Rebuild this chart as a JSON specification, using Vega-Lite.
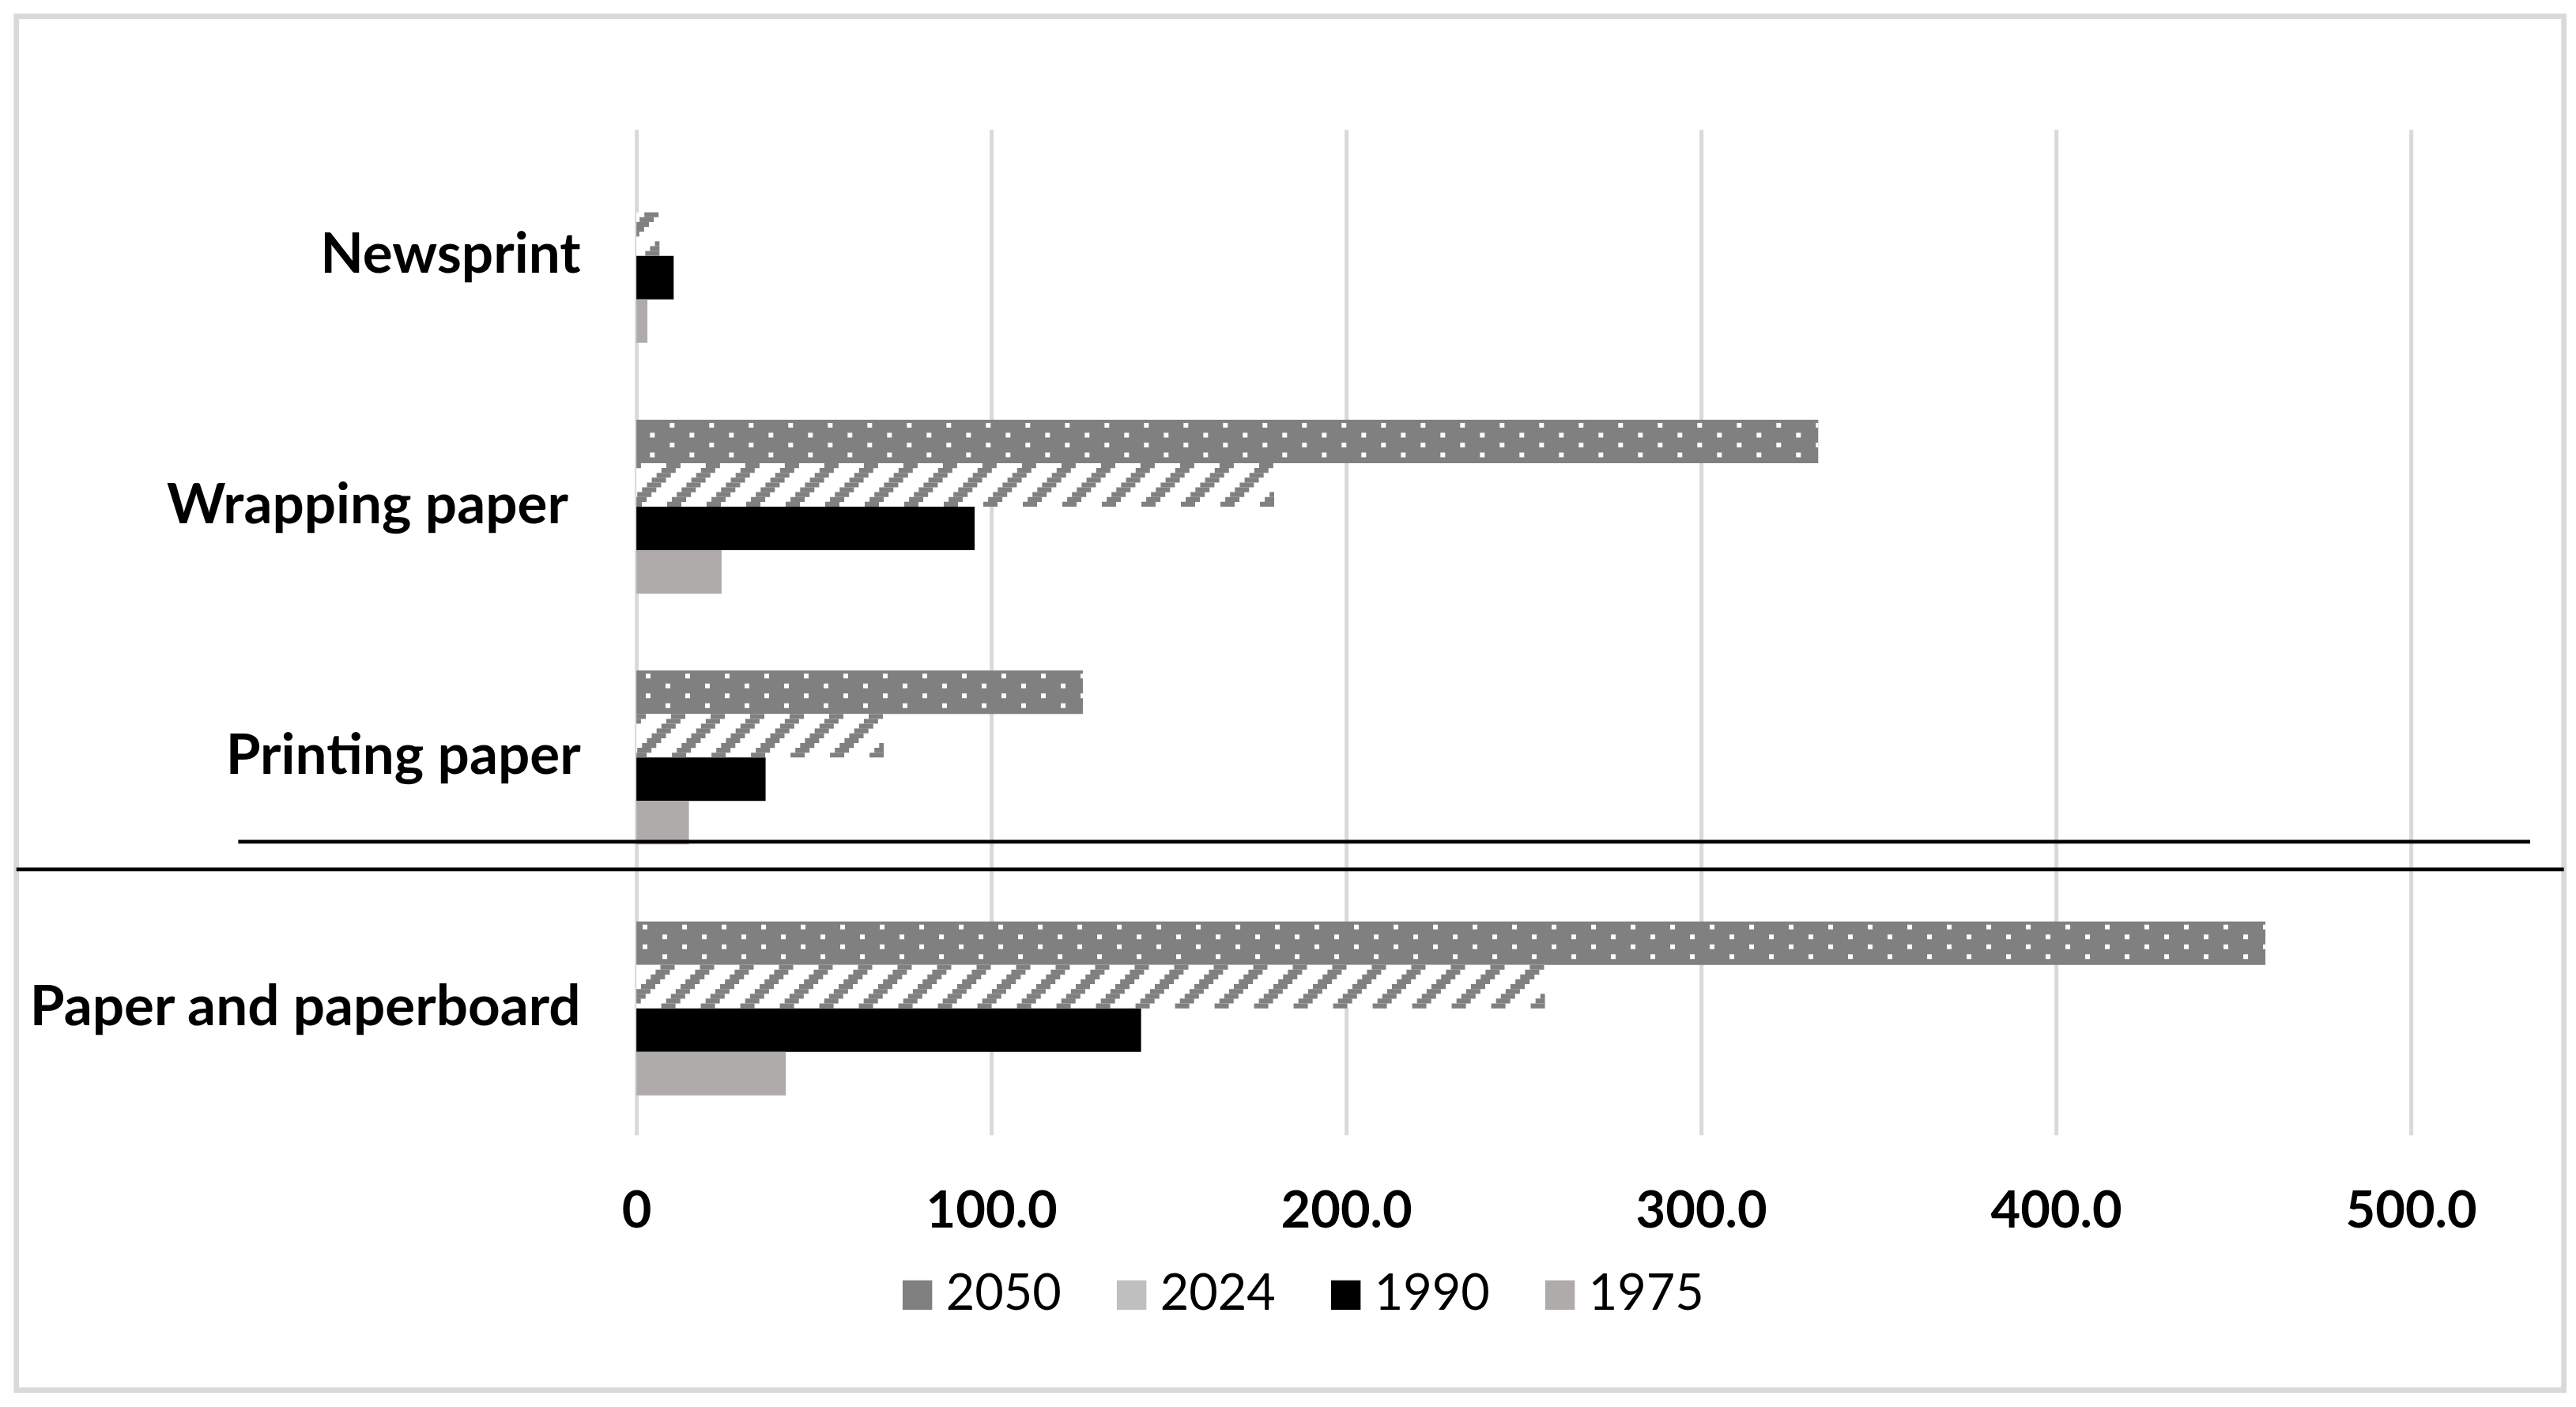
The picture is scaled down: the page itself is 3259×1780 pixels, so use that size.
{
  "$schema": "https://vega.github.io/schema/vega-lite/v6.json",
  "width": 2245,
  "height": 1272,
  "padding": {"left": 17.15, "top": 16.65, "right": 0, "bottom": 0},
  "background": "white",
  "config": {"view": {"stroke": null}, "font": "Lato"},
  "data": {
    "values": [
      {"category": "Newsprint", "year": "2050", "value": 0},
      {"category": "Newsprint", "year": "2024", "value": 6.5},
      {"category": "Newsprint", "year": "1990", "value": 10.5},
      {"category": "Newsprint", "year": "1975", "value": 3.1},
      {"category": "Wrapping paper\u00a0\u200b", "year": "2050", "value": 333},
      {"category": "Wrapping paper\u00a0\u200b", "year": "2024", "value": 179.7},
      {"category": "Wrapping paper\u00a0\u200b", "year": "1990", "value": 95.3},
      {"category": "Wrapping paper\u00a0\u200b", "year": "1975", "value": 24},
      {"category": "Printing paper", "year": "2050", "value": 125.8},
      {"category": "Printing paper", "year": "2024", "value": 69.7},
      {"category": "Printing paper", "year": "1990", "value": 36.4},
      {"category": "Printing paper", "year": "1975", "value": 14.8},
      {"category": "Paper and paperboard", "year": "2050", "value": 459},
      {"category": "Paper and paperboard", "year": "2024", "value": 256},
      {"category": "Paper and paperboard", "year": "1990", "value": 142.2},
      {"category": "Paper and paperboard", "year": "1975", "value": 42.1}
    ]
  },
  "layer": [
    {
      "data": {"values": [{}]},
      "mark": {"type": "rect", "fill": "transparent", "stroke": "#D9D9D9", "strokeWidth": 6.7},
      "encoding": {
        "x": {"datum": -174.7, "type": "quantitative", "title": null},
        "x2": {"datum": 543.1},
        "y": {"datum": "Newsprint", "type": "nominal", "bandPosition": -0.877, "title": null},
        "y2": {"datum": "Paper and paperboard", "bandPosition": 2.695}
      }
    },
    {
      "mark": {"type": "bar"},
      "encoding": {
        "y": {
          "field": "category", "type": "nominal", "title": null,
          "scale": {"domain": ["Newsprint", "Wrapping paper\u00a0\u200b", "Printing paper", "Paper and paperboard"], "paddingInner": 0.3067, "paddingOuter": 0.1576},
          "axis": {"domain": false, "ticks": false, "tickSize": 0, "grid": false, "labelFont": "Lato", "labelFontWeight": "bold", "labelFontSize": 71, "labelColor": "#000000", "labelPadding": 71, "labelLimit": 1000, "title": null}
        },
        "yOffset": {"field": "year", "type": "nominal", "scale": {"domain": ["2050", "2024", "1990", "1975"], "paddingInner": 0, "paddingOuter": 0}},
        "x": {
          "field": "value", "type": "quantitative", "title": null,
          "scale": {"domain": [0, 500], "nice": false, "zero": true},
          "axis": {"values": [0, 100, 200, 300, 400, 500], "grid": true, "gridColor": "#D9D9D9", "gridWidth": 5, "domain": false, "ticks": false, "tickSize": 0, "labelFont": "Lato", "labelFontWeight": "bold", "labelFontSize": 65, "labelColor": "#000000", "labelPadding": 66, "labelFlush": false, "labelExpr": "datum.value === 0 ? '0' : format(datum.value, '.1f')", "title": null}
        },
        "color": {
          "field": "year", "type": "nominal",
          "condition": {"test": "datum.year === '2024'", "value": "#ffffff"},
          "scale": {"domain": ["2050", "2024", "1990", "1975"], "range": ["#808080", "#bfbfbf", "#000000", "#AFABAB"]},
          "legend": {"orient": "none", "legendX": 324, "legendY": 1443, "direction": "horizontal", "title": null, "symbolType": "square", "symbolSize": 1400, "symbolStrokeWidth": 0, "labelFont": "Lato", "labelFontSize": 63, "labelColor": "#000000", "labelOffset": 4.5, "columnPadding": 57, "padding": 0, "labelLimit": 500}
        }
      }
    },
    {"transform": [{"filter": "datum.year === '2050'"}], "mark": {"type": "rule", "color": "#ffffff", "strokeWidth": 6, "strokeDash": [6, 44], "strokeDashOffset": 3, "yOffset": -103}, "encoding": {"y": {"field": "category", "type": "nominal", "title": null}, "x": {"field": "value", "type": "quantitative", "title": null}, "x2": {"datum": 0}}},
    {"transform": [{"filter": "datum.year === '2050'"}], "mark": {"type": "rule", "color": "#ffffff", "strokeWidth": 6, "strokeDash": [6, 44], "strokeDashOffset": 28, "yOffset": -90.5}, "encoding": {"y": {"field": "category", "type": "nominal", "title": null}, "x": {"field": "value", "type": "quantitative", "title": null}, "x2": {"datum": 0}}},
    {"transform": [{"filter": "datum.year === '2050'"}], "mark": {"type": "rule", "color": "#ffffff", "strokeWidth": 6, "strokeDash": [6, 44], "strokeDashOffset": 3, "yOffset": -78}, "encoding": {"y": {"field": "category", "type": "nominal", "title": null}, "x": {"field": "value", "type": "quantitative", "title": null}, "x2": {"datum": 0}}},
    {"transform": [{"filter": "datum.year === '2050'"}], "mark": {"type": "rule", "color": "#ffffff", "strokeWidth": 6, "strokeDash": [6, 44], "strokeDashOffset": 28, "yOffset": -65.5}, "encoding": {"y": {"field": "category", "type": "nominal", "title": null}, "x": {"field": "value", "type": "quantitative", "title": null}, "x2": {"datum": 0}}},
    {"transform": [{"filter": "datum.year === '2024'"}], "mark": {"type": "rule", "color": "#808080", "strokeWidth": 6.2, "strokeDash": [18, 32], "strokeDashOffset": 48.9, "yOffset": -51.94}, "encoding": {"y": {"field": "category", "type": "nominal", "title": null}, "x": {"field": "value", "type": "quantitative", "title": null}, "x2": {"datum": 0}}},
    {"transform": [{"filter": "datum.year === '2024'"}], "mark": {"type": "rule", "color": "#808080", "strokeWidth": 6.2, "strokeDash": [18, 32], "strokeDashOffset": 42.8, "yOffset": -45.83}, "encoding": {"y": {"field": "category", "type": "nominal", "title": null}, "x": {"field": "value", "type": "quantitative", "title": null}, "x2": {"datum": 0}}},
    {"transform": [{"filter": "datum.year === '2024'"}], "mark": {"type": "rule", "color": "#808080", "strokeWidth": 6.2, "strokeDash": [18, 32], "strokeDashOffset": 36.7, "yOffset": -39.72}, "encoding": {"y": {"field": "category", "type": "nominal", "title": null}, "x": {"field": "value", "type": "quantitative", "title": null}, "x2": {"datum": 0}}},
    {"transform": [{"filter": "datum.year === '2024'"}], "mark": {"type": "rule", "color": "#808080", "strokeWidth": 6.2, "strokeDash": [18, 32], "strokeDashOffset": 30.6, "yOffset": -33.61}, "encoding": {"y": {"field": "category", "type": "nominal", "title": null}, "x": {"field": "value", "type": "quantitative", "title": null}, "x2": {"datum": 0}}},
    {"transform": [{"filter": "datum.year === '2024'"}], "mark": {"type": "rule", "color": "#808080", "strokeWidth": 6.2, "strokeDash": [18, 32], "strokeDashOffset": 24.4, "yOffset": -27.5}, "encoding": {"y": {"field": "category", "type": "nominal", "title": null}, "x": {"field": "value", "type": "quantitative", "title": null}, "x2": {"datum": 0}}},
    {"transform": [{"filter": "datum.year === '2024'"}], "mark": {"type": "rule", "color": "#808080", "strokeWidth": 6.2, "strokeDash": [18, 32], "strokeDashOffset": 18.3, "yOffset": -21.39}, "encoding": {"y": {"field": "category", "type": "nominal", "title": null}, "x": {"field": "value", "type": "quantitative", "title": null}, "x2": {"datum": 0}}},
    {"transform": [{"filter": "datum.year === '2024'"}], "mark": {"type": "rule", "color": "#808080", "strokeWidth": 6.2, "strokeDash": [18, 32], "strokeDashOffset": 12.2, "yOffset": -15.28}, "encoding": {"y": {"field": "category", "type": "nominal", "title": null}, "x": {"field": "value", "type": "quantitative", "title": null}, "x2": {"datum": 0}}},
    {"transform": [{"filter": "datum.year === '2024'"}], "mark": {"type": "rule", "color": "#808080", "strokeWidth": 6.2, "strokeDash": [18, 32], "strokeDashOffset": 6.1, "yOffset": -9.17}, "encoding": {"y": {"field": "category", "type": "nominal", "title": null}, "x": {"field": "value", "type": "quantitative", "title": null}, "x2": {"datum": 0}}},
    {"transform": [{"filter": "datum.year === '2024'"}], "mark": {"type": "rule", "color": "#808080", "strokeWidth": 6.2, "strokeDash": [18, 32], "strokeDashOffset": 0, "yOffset": -3.06}, "encoding": {"y": {"field": "category", "type": "nominal", "title": null}, "x": {"field": "value", "type": "quantitative", "title": null}, "x2": {"datum": 0}}},
    {
      "data": {"values": [{}]},
      "mark": {"type": "rule", "color": "#000000", "strokeWidth": 4.7},
      "encoding": {
        "x": {"datum": -112.2, "type": "quantitative", "title": null},
        "x2": {"datum": 533.6},
        "y": {"datum": "Printing paper", "type": "nominal", "bandPosition": 0.9845, "title": null}
      }
    },
    {
      "data": {"values": [{}]},
      "mark": {"type": "rule", "color": "#000000", "strokeWidth": 4.7},
      "encoding": {
        "x": {"datum": -174.7, "type": "quantitative", "title": null},
        "x2": {"datum": 543.1},
        "y": {"datum": "Printing paper", "type": "nominal", "bandPosition": 1.1436, "title": null}
      }
    }
  ]
}
